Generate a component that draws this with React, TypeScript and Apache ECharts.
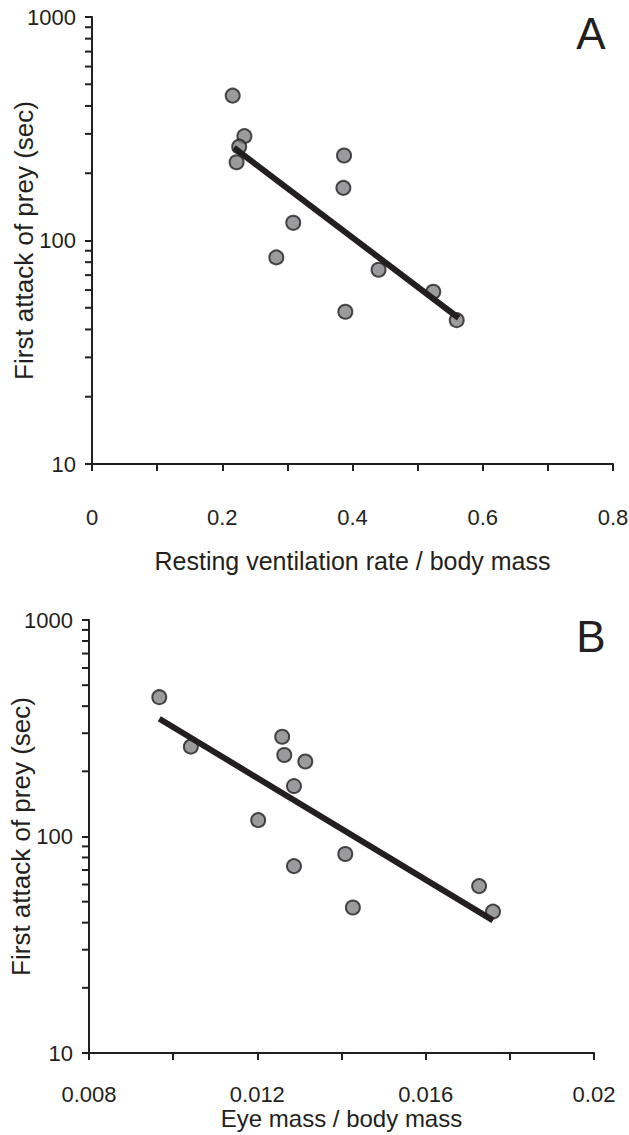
import React, { useEffect, useRef } from "react";
import * as echarts from "echarts";

// Panel A: resting ventilation rate / body mass vs first attack of prey (sec)
const ventRate = [0.216, 0.234, 0.226, 0.222, 0.387, 0.386, 0.309, 0.283, 0.44, 0.524, 0.389, 0.56];
const attackA = [445, 293, 263, 224, 240, 172, 120, 84, 74, 59, 48, 44];
const fitAx = [0.218, 0.563];
const fitAy = [260, 45];

// Panel B: eye mass / body mass vs first attack of prey (sec)
const eyeMass = [0.00967, 0.01042, 0.01259, 0.01264, 0.01314, 0.01287, 0.01202, 0.01409, 0.01287, 0.01727, 0.01427, 0.0176];
const attackB = [440, 260, 289, 238, 222, 171, 119, 83, 73, 59, 47, 45];
const fitBx = [0.00967, 0.0176];
const fitBy = [350, 41];

// log-axis minor tick values
const logMinor = [20, 30, 40, 50, 60, 70, 80, 90, 200, 300, 400, 500, 600, 700, 800, 900];

const INK = "#231f20";
const FONT = "'Liberation Sans', Arial, Helvetica, sans-serif";

export default function App() {
  const ref = useRef<HTMLDivElement>(null);

  useEffect(() => {
    if (!ref.current) return;
    const chart = echarts.init(ref.current, null, { renderer: "svg" });

    const xAxisBase = (
      min: number,
      max: number,
      interval: number,
      name: string,
      gridIndex: number,
      labelMargin: number,
      nameGap: number,
      nameSize: number
    ) => ({
      type: "value",
      gridIndex,
      min,
      max,
      interval,
      name,
      nameLocation: "middle",
      nameGap,
      nameMoveOverlap: false,
      nameTextStyle: { color: INK, fontSize: nameSize, fontFamily: FONT },
      axisLine: { show: true, onZero: false, lineStyle: { color: INK, width: 2 } },
      axisTick: { show: true, inside: false, length: 7, lineStyle: { color: INK, width: 2 } },
      minorTick: { show: true, splitNumber: 2, length: 7, lineStyle: { color: INK, width: 2 } },
      splitLine: { show: false },
      minorSplitLine: { show: false },
      axisLabel: { color: INK, fontSize: 22, fontFamily: FONT, margin: labelMargin, formatter: (v: number) => String(+v.toFixed(6)) },
    });

    const yAxisBase = (gridIndex: number) => ({
      type: "log",
      logBase: 10,
      gridIndex,
      min: 10,
      max: 1000,
      name: "First attack of prey (sec)",
      nameLocation: "middle",
      nameRotate: 90,
      nameGap: 55,
      nameMoveOverlap: false,
      nameTextStyle: { color: INK, fontSize: 26, fontFamily: FONT },
      axisLine: { show: true, onZero: false, lineStyle: { color: INK, width: 2 } },
      axisTick: { show: true, inside: false, length: 7, lineStyle: { color: INK, width: 2 } },
      minorTick: { show: false },
      splitLine: { show: false },
      axisLabel: { color: INK, fontSize: 22, fontFamily: FONT, margin: 16, formatter: (v: number) => String(Math.round(v)) },
    });

    const minorTickSeries = (idx: number, xmin: number) => ({
      type: "custom",
      xAxisIndex: idx,
      yAxisIndex: idx,
      clip: false,
      silent: true,
      data: logMinor.map((v) => [xmin, v]),
      renderItem: (_params: any, api: any) => {
        const p = api.coord([api.value(0), api.value(1)]);
        return {
          type: "line",
          shape: { x1: p[0] - 7, y1: p[1], x2: p[0], y2: p[1] },
          style: { stroke: INK, lineWidth: 2 },
        };
      },
    });

    const scatterStyle = {
      color: "#808285",
      borderColor: INK,
      borderWidth: 2,
    };

    chart.setOption({
      animation: false,
      backgroundColor: "#ffffff",
      grid: [
        { left: 92, top: 17, width: 521, height: 447, outerBoundsMode: "none", containLabel: false },
        { left: 89, top: 620, width: 505, height: 433, outerBoundsMode: "none", containLabel: false },
      ],
      xAxis: [
        xAxisBase(0, 0.8, 0.2, "Resting ventilation rate / body mass", 0, 42, 84, 25),
        xAxisBase(0.008, 0.02, 0.004, "Eye mass / body mass", 1, 30, 53, 24),
      ],
      yAxis: [yAxisBase(0), yAxisBase(1)],
      graphic: [
        {
          type: "text",
          x: 591,
          y: 33,
          style: { text: "A", fontSize: 44, fontFamily: FONT, fill: INK, textAlign: "center", textVerticalAlign: "middle" },
        },
        {
          type: "text",
          x: 591,
          y: 636,
          style: { text: "B", fontSize: 44, fontFamily: FONT, fill: INK, textAlign: "center", textVerticalAlign: "middle" },
        },
      ],
      series: [
        minorTickSeries(0, 0),
        minorTickSeries(1, 0.008),
        {
          type: "scatter",
          xAxisIndex: 0,
          yAxisIndex: 0,
          symbol: "circle",
          symbolSize: 14,
          itemStyle: scatterStyle,
          data: ventRate.map((x, i) => [x, attackA[i]]),
          z: 2,
        },
        {
          type: "line",
          xAxisIndex: 0,
          yAxisIndex: 0,
          showSymbol: false,
          symbol: "none",
          lineStyle: { color: INK, width: 6 },
          data: fitAx.map((x, i) => [x, fitAy[i]]),
          z: 3,
        },
        {
          type: "scatter",
          xAxisIndex: 1,
          yAxisIndex: 1,
          symbol: "circle",
          symbolSize: 14,
          itemStyle: scatterStyle,
          data: eyeMass.map((x, i) => [x, attackB[i]]),
          z: 2,
        },
        {
          type: "line",
          xAxisIndex: 1,
          yAxisIndex: 1,
          showSymbol: false,
          symbol: "none",
          lineStyle: { color: INK, width: 6 },
          data: fitBx.map((x, i) => [x, fitBy[i]]),
          z: 3,
        },
      ],
    });

    return () => chart.dispose();
  }, []);

  return (
    <div
      ref={ref}
      style={{ position: "absolute", left: 0, top: 0, width: 629, height: 1135, background: "#fff" }}
    />
  );
}
